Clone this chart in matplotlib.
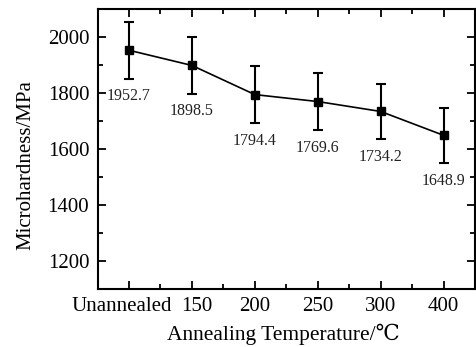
import matplotlib
matplotlib.use("Agg")
import matplotlib.pyplot as plt
import matplotlib.transforms as mtransforms
from matplotlib.ticker import MultipleLocator, FixedLocator

plt.rcParams['font.family'] = ['Liberation Serif', 'DejaVu Serif', 'Noto Sans CJK SC']

# Data
categories = ["Unannealed", "150", "200", "250", "300", "400"]
hardness = [1952.7, 1898.5, 1794.4, 1769.6, 1734.2, 1648.9]
errors = [101, 101, 102, 102, 98, 98]

fig = plt.figure(figsize=(4.76, 3.47), dpi=100)
ax = fig.add_axes([0.205, 0.167, 0.793, 0.807])

x = list(range(len(categories)))
ax.errorbar(x, hardness, yerr=errors, color="black", linewidth=1.2,
            marker="s", markersize=5.5, elinewidth=1.5, capsize=3.5,
            capthick=1.5)

# value labels below each lower error bar
for xi, v, e in zip(x, hardness, errors):
    ax.annotate(f"{v:.1f}", (xi, v - e), xytext=(0, -7),
                textcoords="offset points", ha="center", va="top",
                fontsize=11.5, color="#222222")

ax.set_xlim(-0.5, 5.5)
ax.set_ylim(1100, 2100)
ax.set_xticks(x)
ax.set_xticklabels(categories)
ax.xaxis.set_minor_locator(FixedLocator([i + 0.5 for i in range(-1, 6)]))
ax.yaxis.set_major_locator(MultipleLocator(200))
ax.yaxis.set_minor_locator(MultipleLocator(100))

ax.tick_params(which="both", direction="in", top=True, right=True,
               labelsize=15, width=1.3)
ax.tick_params(which="major", length=6, pad=6)
ax.tick_params(which="minor", length=3.5)

# nudge the first two labels apart like in the original
shifts = [-7, 5]
for lab, dx in zip(ax.get_xticklabels(), shifts):
    lab.set_transform(lab.get_transform() +
                      mtransforms.ScaledTranslation(dx / 100, 0, fig.dpi_scale_trans))

for s in ax.spines.values():
    s.set_linewidth(1.5)

ax.set_xlabel("Annealing Temperature/℃", fontsize=15.5)
ax.set_ylabel("Microhardness/MPa", fontsize=15)
ax.xaxis.set_label_coords(0.492, -0.125)
ax.yaxis.set_label_coords(-0.19, 0.443)
ax.yaxis.label.set_verticalalignment("center")

fig.savefig("out.png", dpi=100)
